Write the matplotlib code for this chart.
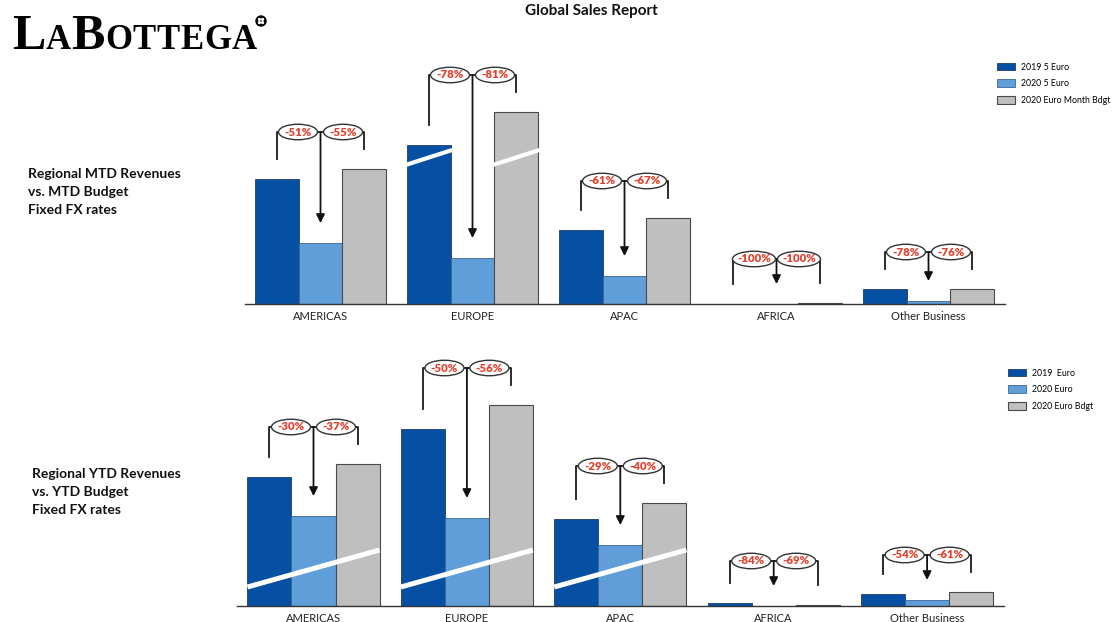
import matplotlib
matplotlib.use('Agg')
import matplotlib.pyplot as plt
from matplotlib.patches import Ellipse, Circle
import numpy as np

plt.rcParams['font.family'] = ['Lato', 'DejaVu Sans']

regions = ['AMERICAS', 'EUROPE', 'APAC', 'AFRICA', 'Other Business']

# month to date, bar heights (Europe is drawn broken)
mtd_2019 = [125, 159, 74, 0, 15]
mtd_2020 = [61, 46, 28, 0, 3]
mtd_budget = [135, 192, 86, 1.5, 15]
mtd_vs_2019 = ['-51%', '-78%', '-61%', '-100%', '-78%']
mtd_vs_budget = ['-55%', '-81%', '-67%', '-100%', '-76%']
mtd_legend = ['2019 5 Euro', '2020 5 Euro', '2020 Euro Month Bdgt']

# year to date
ytd_2019 = [129, 177, 87, 3, 12]
ytd_2020 = [90, 88, 61, 0, 6]
ytd_budget = [142, 201, 103, 1, 14]
ytd_vs_2019 = ['-30%', '-50%', '-29%', '-84%', '-54%']
ytd_vs_budget = ['-37%', '-56%', '-40%', '-69%', '-61%']
ytd_legend = ['2019  Euro', '2020 Euro', '2020 Euro Bdgt']

DARK = '#0550A2'
LIGHT = '#5F9ED8'
GREY = '#BFBFBF'
RED = '#E2402C'
W, H = 1113, 622

fig = plt.figure(figsize=(W / 100, H / 100), dpi=100)

# overlay in pixel coords for the logo, title and side captions
ov = fig.add_axes([0, 0, 1, 1])
ov.set_xlim(0, W)
ov.set_ylim(H, 0)
ov.axis('off')
ov.patch.set_visible(False)


def px_axes(left, right, base, top):
    return fig.add_axes([left / W, (H - base) / H, (right - left) / W, (base - top) / H])


def cut(ax, x0, x1, y0, y1, lw):
    ax.plot([x0, x1], [y0, y1], color='white', lw=lw, solid_capstyle='butt', zorder=2.5)


def panel(ax, v19, v20, vbud, d19, dbud, labels, leg_xy):
    x = np.arange(len(regions))
    bw = 0.287
    ppu = ax.get_position().width * W / len(regions)
    b1 = ax.bar(x - bw, v19, bw, color=DARK, edgecolor='#1d3c66', lw=0.6, label=labels[0])
    b2 = ax.bar(x, v20, bw, color=LIGHT, edgecolor='#3d6690', lw=0.6, label=labels[1])
    b3 = ax.bar(x + bw, vbud, bw, color=GREY, edgecolor='#4a4a4a', lw=0.8, label=labels[2])

    for i in range(len(regions)):
        xd, xc, xg = i - bw, i, i + bw
        lvl = max(max(v19[i], vbud[i]) + 37, 45)
        ax.plot([xd, xd, xg, xg], [v19[i] + 20, lvl, lvl, vbud[i] + 20],
                color='#1a1a1a', lw=1.3, zorder=3)
        ax.annotate('', xy=(xc, v20[i] + 20), xytext=(xc, lvl),
                    arrowprops=dict(arrowstyle='-|>,head_length=0.5,head_width=0.25',
                                    color='#111111', lw=1.3, shrinkA=0, shrinkB=0,
                                    mutation_scale=10), zorder=3)
        for dx, txt in ((-22.5, d19[i]), (22.5, dbud[i])):
            w = (4 * len(txt) + 23) / ppu
            ax.add_patch(Ellipse((xc + dx / ppu, lvl), w, 15.5, fc='white', ec='#333333',
                                 lw=1.0, zorder=4))
            ax.text(xc + dx / ppu, lvl, txt, ha='center', va='center', color=RED,
                    fontsize=8.2, fontweight='heavy', zorder=5)

    ax.set_xlim(-0.5, len(regions) - 0.5)
    ax.set_ylim(0, 260)
    ax.set_xticks(x, regions)
    ax.set_yticks([])
    ax.tick_params(axis='x', length=0, pad=5, labelsize=8, labelcolor='#222222')
    for s in ('top', 'left', 'right'):
        ax.spines[s].set_visible(False)
    ax.spines['bottom'].set_color('#333333')
    ax.spines['bottom'].set_linewidth(1.0)
    ax.patch.set_visible(False)
    ax.legend(handles=[b1, b2, b3], loc='upper left', bbox_to_anchor=leg_xy,
              bbox_transform=fig.transFigure, frameon=False, fontsize=6.3,
              handlelength=2.1, handleheight=1.0, labelspacing=0.9,
              handletextpad=0.6, borderpad=0, borderaxespad=0)
    return bw


ax1 = px_axes(244.5, 1004.5, 304, 44)
bw = panel(ax1, mtd_2019, mtd_2020, mtd_budget, mtd_vs_2019, mtd_vs_budget, mtd_legend,
           (997 / W, (H - 62.5) / H))
# broken bars for Europe
for xb in (1 - bw, 1 + bw):
    cut(ax1, xb - bw / 2 - 0.01, xb + bw / 2 + 0.01, 139, 154, 3)

ax2 = px_axes(236.8, 1003.8, 606, 346)
bw = panel(ax2, ytd_2019, ytd_2020, ytd_budget, ytd_vs_2019, ytd_vs_budget, ytd_legend,
           (1008 / W, (H - 368.5) / H))
for g in (0, 1, 2):
    cut(ax2, g - 1.5 * bw, g + 1.5 * bw, 19, 56, 3.6)

# captions
ov.text(591, 11.5, 'Global Sales Report', ha='center', va='center', fontsize=11,
        fontweight='bold', color='#111111')
ov.text(28, 168.5, 'Regional MTD Revenues\nvs. MTD Budget\nFixed FX rates', ha='left',
        va='top', fontsize=10, fontweight='bold', linespacing=1.58, color='#111111')
ov.text(32, 468, 'Regional YTD Revenues\nvs. YTD Budget\nFixed FX rates', ha='left',
        va='top', fontsize=10, fontweight='bold', linespacing=1.58, color='#111111')

# logo
r = fig.canvas.get_renderer()
xpos = 12
for ch, size in [('L', 36), ('A', 25), ('B', 36), ('O', 25), ('T', 25), ('T', 25),
                 ('E', 25), ('G', 25), ('A', 25)]:
    t = ov.text(xpos, 49, ch, fontsize=size, family='Liberation Serif', fontweight='bold',
                va='baseline', ha='left', color='black')
    xpos = t.get_window_extent(r).x1 + 0.5
ov.add_patch(Circle((xpos + 4, 21), 5, color='black'))
for dx in (-1.6, 1.6):
    for dy in (-1.6, 1.6):
        ov.add_patch(Circle((xpos + 4 + dx, 21 + dy), 0.9, color='white'))

fig.savefig('out.png', dpi=100)
